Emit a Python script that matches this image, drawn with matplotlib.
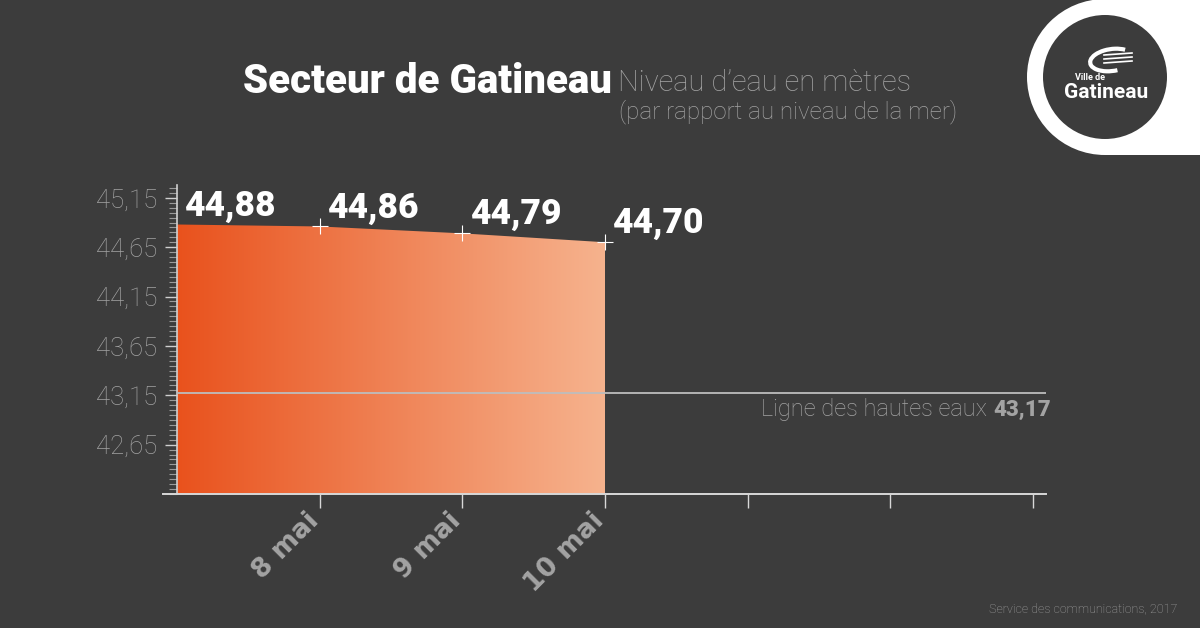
import numpy as np
import matplotlib
matplotlib.use('Agg')
import matplotlib.pyplot as plt
from matplotlib.patches import Circle, Rectangle, Arc
from matplotlib.colors import LinearSegmentedColormap
from matplotlib.ticker import FixedLocator, MultipleLocator

# Données : niveau d'eau, secteur de Gatineau
jours = [0, 1, 2, 3]
niveaux = [44.88, 44.86, 44.79, 44.70]
etiquettes_niveaux = ['44,88', '44,86', '44,79', '44,70']
positions_x = [1, 2, 3, 4, 5, 6]
etiquettes_x = ['8 mai', '9 mai', '10 mai', '', '', '']
graduations_y = [42.65, 43.15, 43.65, 44.15, 44.65, 45.15]
ligne_hautes_eaux = 43.17
y_min, y_max = 42.15, 45.28

BG = '#3c3c3c'
GRIS = '#a3a3a3'
W, H = 1200, 628
LEGER = ['Roboto', 'DejaVu Sans']
GRAS = ['Roboto', 'DejaVu Sans']

plt.rcParams['font.family'] = LEGER

fig = plt.figure(figsize=(12, 6.28), dpi=100, facecolor=BG)


def px_axes(x0, y0, x1, y1):
    return [x0 / W, 1 - y1 / H, (x1 - x0) / W, (y1 - y0) / H]


ax = fig.add_axes(px_axes(163, 185, 1046, 494))
ax.set_facecolor('none')
xlim = (-14 / 142.67, 6 + 13 / 142.67)

# aire avec dégradé
poly = ax.fill_between(jours, niveaux, y_min, color='none', lw=0)
cmap = LinearSegmentedColormap.from_list('grad', ['#e9521d', '#f6b38e'])
grad = np.linspace(0, 1, 256).reshape(1, -1)
im = ax.imshow(grad, extent=[jours[0], jours[-1], y_min, max(niveaux)],
               aspect='auto', cmap=cmap, zorder=1)
im.set_clip_path(poly.get_paths()[0], transform=ax.transData)

ax.plot(jours[1:], niveaux[1:], '+', color='white', ms=12, mew=0.8, zorder=4)

# ligne des hautes eaux
ax.hlines(ligne_hautes_eaux, 0, xlim[1], color='#bdbdbd', lw=1.3, zorder=3)

for x, y, t in zip(jours, niveaux, etiquettes_niveaux):
    ax.annotate(t, (x, y), xytext=(6, 6.5), textcoords='offset points',
                ha='left', va='baseline', color='white', fontsize=25.5,
                fontweight='black', family=GRAS, zorder=5)

ax.set_xlim(*xlim)
ax.set_ylim(y_min, y_max)

for s in ['top', 'right']:
    ax.spines[s].set_visible(False)
ax.spines['left'].set_position(('data', 0))
ax.spines['left'].set_color('#cfcfcf')
ax.spines['bottom'].set_color('#d8d8d8')
ax.spines['left'].set_linewidth(1.2)
ax.spines['bottom'].set_linewidth(1.4)

ax.yaxis.set_major_locator(FixedLocator(graduations_y))
ax.yaxis.set_minor_locator(MultipleLocator(0.05))
ax.set_yticklabels([f'{v:.2f}'.replace('.', ',') for v in graduations_y])
ax.tick_params(axis='y', which='major', length=9, width=1, color='#cfcfcf',
               labelcolor=GRIS, labelsize=18.5, pad=5)
ax.tick_params(axis='y', which='minor', length=6, width=0.8, color='#9a9a9a')
for lab in ax.get_yticklabels():
    lab.set_fontweight('light')

ax.set_xticks(positions_x)
ax.set_xticklabels(etiquettes_x, rotation=45, ha='right', va='baseline',
                   rotation_mode='anchor', fontweight='bold',
                   family=['DejaVu Sans'])
ax.tick_params(axis='x', length=10, width=1, color='#d8d8d8',
               labelcolor=GRIS, labelsize=19, pad=10)

# habillage
ov = fig.add_axes([0, 0, 1, 1])
ov.set_xlim(0, W)
ov.set_ylim(H, 0)
ov.axis('off')

ov.text(243, 93, 'Secteur de Gatineau', color='white', fontsize=29,
        fontweight='black', family=GRAS, ha='left', va='baseline')
ov.text(618, 91, 'Niveau d\u2019eau en mètres', color=GRIS, fontsize=21,
        fontweight='light', ha='left', va='baseline')
ov.text(619, 118, '(par rapport au niveau de la mer)', color=GRIS,
        fontsize=17.4, fontweight='light', ha='left', va='baseline')

ov.text(987, 416, 'Ligne des hautes eaux', color=GRIS, fontsize=17,
        fontweight='light', ha='right', va='baseline')
ov.text(993, 416, '43,17', color=GRIS, fontsize=16,
        fontweight='black', family=GRAS, ha='left', va='baseline')

ov.text(1177, 612, 'Service des communications, 2017', color=GRIS,
        fontsize=9, fontweight='light', ha='right', va='baseline')

# logo Ville de Gatineau
ov.add_patch(Rectangle((1105, -5), 100, 160, color='white', lw=0))
ov.add_patch(Circle((1105, 77), 78, color='white', lw=0))
ov.add_patch(Circle((1105, 77), 62, color=BG, lw=0))
ov.add_patch(Arc((1112, 60), 44, 22, angle=-8, theta1=70, theta2=330,
                 color='white', lw=3))
for dy in (-3, 1, 5):
    ov.plot([1104, 1132], [58 + dy, 56 + dy], color='white', lw=1.2)
ov.text(1075, 80, 'Ville de', color='white', fontsize=6.5, fontweight='bold',
        ha='left', va='baseline')
ov.text(1106, 98, 'Gatineau', color='white', fontsize=15, fontweight='bold',
        ha='center', va='baseline')

fig.savefig('out.png', dpi=100, facecolor=BG)
